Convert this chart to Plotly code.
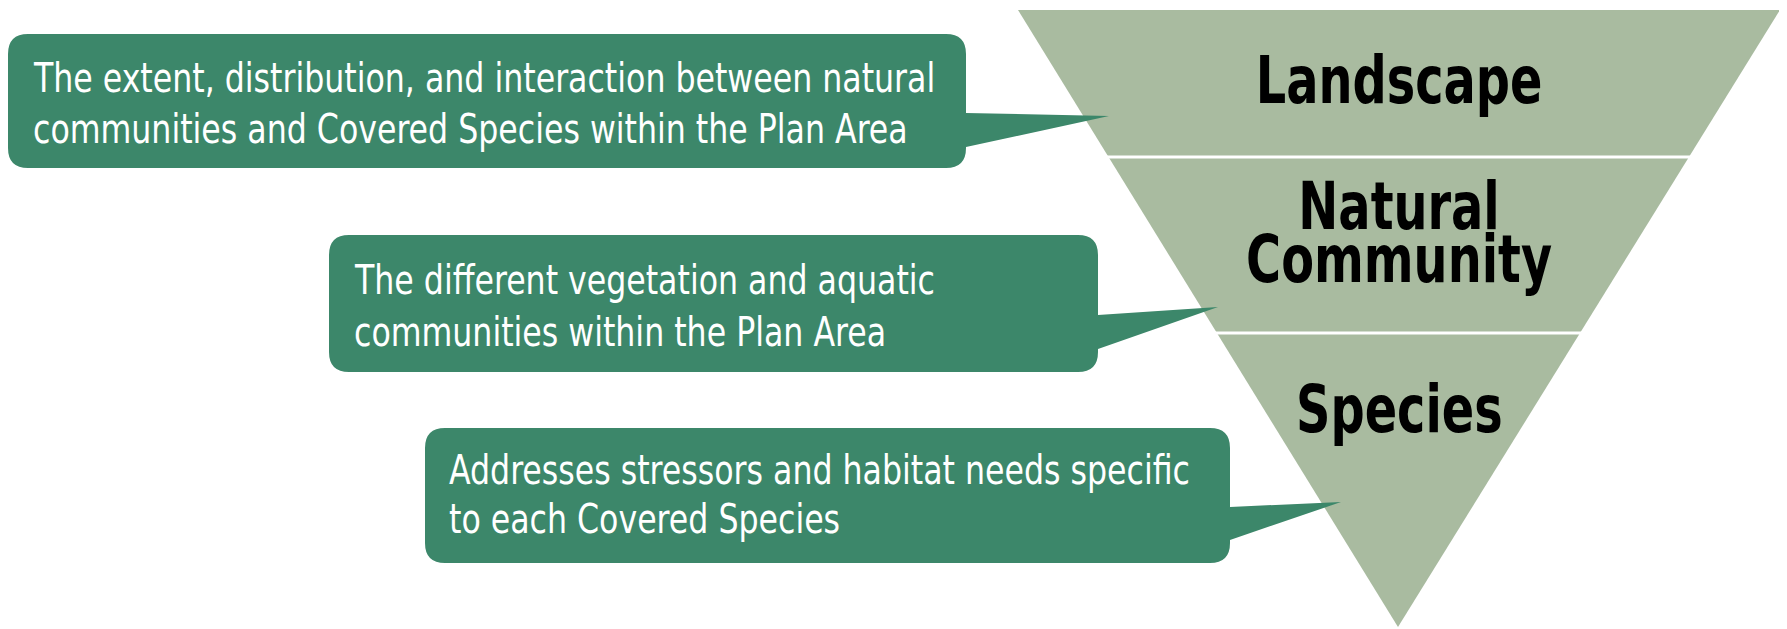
import plotly.graph_objects as go

# ---- data ----
tier_lines = [["Landscape"], ["Natural", "Community"], ["Species"]]
desc_lines = [
    ["The extent, distribution, and interaction between natural",
     "communities and Covered Species within the Plan Area"],
    ["The different vegetation and aquatic",
     "communities within the Plan Area"],
    ["Addresses stressors and habitat needs specific",
     "to each Covered Species"],
]

# ---- layout geometry (page pixels, y downwards) ----
W, H = 1787, 629
OFF = 8  # default page body margin
tri_top, tri_left, tri_right = 10, 1018, 1780
apex = (1398, 627)
dividers = [157, 333]
tier_baselines = [[103], [229, 282], [432]]
tier_cx = 1399
tier_size = 66

boxes = [  # x0, x1, y0, y1, pointer upper y, tip x, tip y, pointer lower y
    (8, 966, 34, 168, 113, 1109, 116, 147),
    (329, 1098, 235, 372, 315, 1218, 307, 349),
    (425, 1230, 428, 563, 507, 1341, 502, 540),
]
desc_left = [31, 352, 447]
desc_baselines = [[92, 143], [294, 346], [484, 533]]
desc_size = 41

SAGE = "#A9BBA0"
GREEN = "#3C876A"
FONT = "Liberation Sans Narrow, DejaVu Sans Condensed, Liberation Sans, sans-serif"

def edge_x(y, side):
    t = (y - tri_top) / (apex[1] - tri_top)
    x0 = tri_left if side == "l" else tri_right
    return x0 + (apex[0] - x0) * t

shapes = []
shapes.append(dict(type="path",
                   path=f"M{tri_left},{tri_top} L{tri_right},{tri_top} L{apex[0]},{apex[1]} Z",
                   fillcolor=SAGE, line=dict(width=0), layer="below"))
for yd in dividers:
    shapes.append(dict(type="line", x0=edge_x(yd, "l") - 2, x1=edge_x(yd, "r") + 2, y0=yd, y1=yd,
                       line=dict(color="white", width=3), layer="below"))

r = 20
for (x0, x1, y0, y1, pu, tx, ty, pl) in boxes:
    p = (f"M{x0+r},{y0} L{x1-r},{y0} Q{x1},{y0} {x1},{y0+r} "
         f"L{x1},{pu} L{tx},{ty} L{x1},{pl} "
         f"L{x1},{y1-r} Q{x1},{y1} {x1-r},{y1} L{x0+r},{y1} Q{x0},{y1} {x0},{y1-r} "
         f"L{x0},{y0+r} Q{x0},{y0} {x0+r},{y0} Z")
    shapes.append(dict(type="path", path=p, fillcolor=GREEN, line=dict(width=0), layer="below"))

MID = 0.346  # baseline -> middle of text box (DejaVu metrics)
annotations = []
for lines, bases in zip(tier_lines, tier_baselines):
    for txt, b in zip(lines, bases):
        annotations.append(dict(x=tier_cx, y=b - MID * tier_size,
                                text=txt, showarrow=False, align="center",
                                xanchor="center", yanchor="middle",
                                font=dict(family=FONT, size=tier_size, color="black", weight="bold")))
for lines, bases, lx in zip(desc_lines, desc_baselines, desc_left):
    for txt, b in zip(lines, bases):
        annotations.append(dict(x=lx, y=b - MID * desc_size,
                                text=txt, showarrow=False, align="left",
                                xanchor="left", yanchor="middle",
                                font=dict(family=FONT, size=desc_size, color="white")))

fig = go.Figure()
fig.update_layout(
    width=W, height=H,
    margin=dict(l=0, r=0, t=0, b=0),
    paper_bgcolor="white", plot_bgcolor="white",
    xaxis=dict(range=[OFF, W + OFF], visible=False, fixedrange=True),
    yaxis=dict(range=[H + OFF, OFF], visible=False, fixedrange=True),
    shapes=shapes, annotations=annotations, showlegend=False,
)

# condense the glyphs horizontally (the original uses a condensed typeface)
post = """
document.querySelectorAll('text.annotation-text').forEach(function(t){
  var fs = parseFloat(t.style.fontSize || window.getComputedStyle(t).fontSize);
  var f = fs > 50 ? 0.805 : 0.857;
  var L = t.getComputedTextLength();
  t.setAttribute('lengthAdjust', 'spacingAndGlyphs');
  t.setAttribute('textLength', (L * f).toFixed(1));
});
"""
fig.write_html("out.html", config={"displayModeBar": False}, post_script=post)
